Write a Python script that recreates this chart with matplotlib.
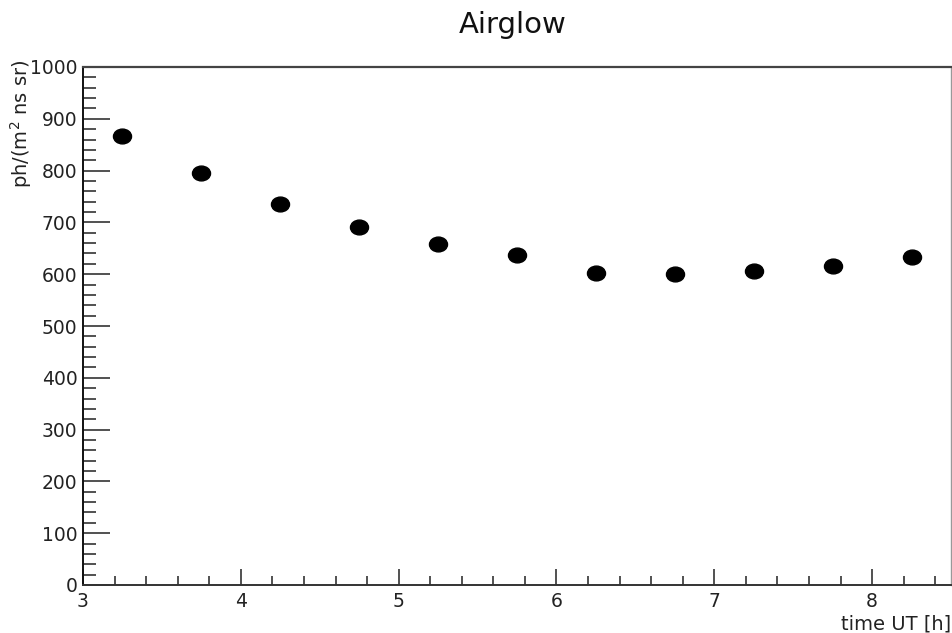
import numpy as np
import matplotlib
matplotlib.use("Agg")
import matplotlib.pyplot as plt
from matplotlib.path import Path
from matplotlib.transforms import Affine2D
from matplotlib.ticker import MultipleLocator

# Airglow intensity vs. universal time
time_ut = [3.25, 3.75, 4.25, 4.75, 5.25, 5.75, 6.25, 6.75, 7.25, 7.75, 8.25]
intensity = [866, 795, 736, 692, 658, 637, 602, 600, 606, 616, 634]

x_ticks = [3, 4, 5, 6, 7, 8]
y_ticks = [0, 100, 200, 300, 400, 500, 600, 700, 800, 900, 1000]

plt.rcParams["font.family"] = ["DejaVu Sans"]

fig = plt.figure(figsize=(9.52, 6.33), dpi=100)
ax = fig.add_axes([83 / 952, 1 - 585 / 633, 868 / 952, 518 / 633])

# slightly wide elliptical dot
dot = Path.unit_circle().transformed(Affine2D().scale(1.0, 0.82))
ax.plot(time_ut, intensity, linestyle="none", marker=dot,
        markersize=13, color="black")

ax.set_xlim(3, 8.5)
ax.set_ylim(0, 1000)
ax.set_xticks(x_ticks)
ax.set_yticks(y_ticks)
ax.xaxis.set_minor_locator(MultipleLocator(0.2))
ax.yaxis.set_minor_locator(MultipleLocator(20))

ax.tick_params(axis="both", which="both", direction="in", top=False,
               right=False, labelsize=13.5, colors="#222222", width=1.1)
ax.tick_params(axis="y", which="major", length=19.5, pad=4)
ax.tick_params(axis="y", which="minor", length=9.5)
ax.tick_params(axis="x", which="major", length=11.5, pad=5)
ax.tick_params(axis="x", which="minor", length=6.5)

ax.spines["left"].set_color("#111111")
ax.spines["left"].set_linewidth(1.4)
ax.spines["bottom"].set_color("#333333")
ax.spines["bottom"].set_linewidth(1.4)
ax.spines["top"].set_color("#444444")
ax.spines["top"].set_linewidth(1.6)
ax.spines["right"].set_color("#999999")
ax.spines["right"].set_linewidth(1.0)

fig.text(513 / 952, 1 - 33 / 633, "Airglow", ha="center", va="baseline",
         fontsize=21, color="#111111")
fig.text(951 / 952, 1 - 629 / 633, "time UT [h]", ha="right", va="baseline",
         fontsize=14, color="#222222")
fig.text(21 / 952, 1 - 60 / 633, r"ph/(m$^{2}$ ns sr)", ha="center", va="top",
         rotation=90, fontsize=14, color="#222222")

fig.savefig("out.png", dpi=100)
